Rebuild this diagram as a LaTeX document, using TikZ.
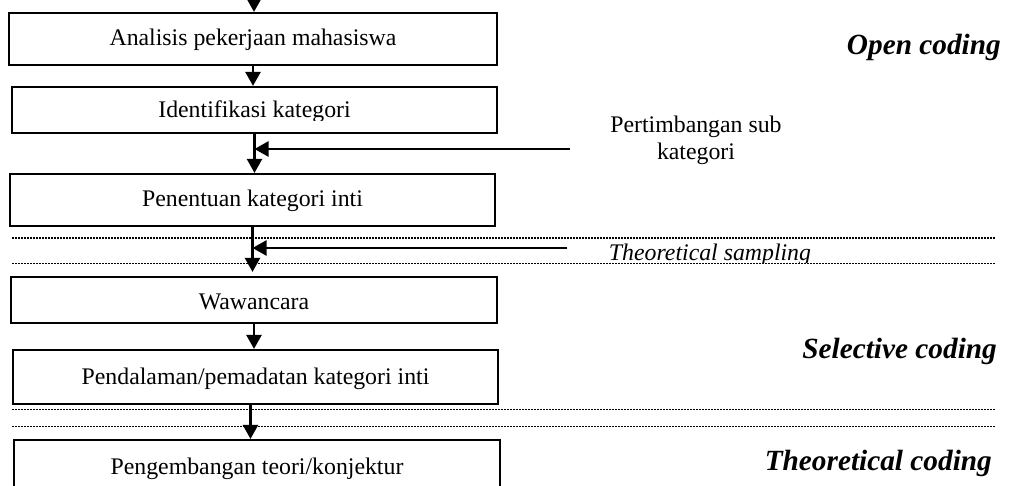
\documentclass[tikz,border=0pt]{standalone}
\usepackage{fontspec}
\setmainfont{Liberation Serif}
\usetikzlibrary{arrows.meta,calc}
\newcommand\boxfnt{\fontsize{23.8}{27}\selectfont}
\newcommand\phasefnt{\fontsize{29.3}{33}\selectfont\bfseries\itshape}
\begin{document}
\begin{tikzpicture}[x=1pt,y=-1pt,
  box/.style={draw,line width=2.2pt,inner sep=0pt,text height=16pt,text depth=2pt,font=\boxfnt},
  arr/.style={line width=2.5pt,-{Triangle[width=15pt,length=14pt]}},
  dotline/.style={line width=1.5pt,dash pattern=on 1.5pt off 1.5pt},
  phase/.style={font=\phasefnt,anchor=base east,inner sep=0pt},
  note/.style={font=\boxfnt,inner sep=0pt}]
\fill[white] (0,0) rectangle (1009,486);
\clip (0,0) rectangle (1009,486);
% dotted separators
\draw[dotline] (12,238) -- (995,238);
\draw[dotline] (12,263.5) -- (995,263.5);
\draw[dotline] (12,409.5) -- (995,409.5);
\draw[dotline] (12,426.5) -- (995,426.5);
% boxes
\node[box,minimum width=488pt,minimum height=52pt] (B1) at (253,39) {Analisis pekerjaan mahasiswa};
\node[box,minimum width=485pt,minimum height=46pt] (B2) at (254.5,110) {};
\begin{scope}
\clip (20,80) rectangle (480,120.5);
\node[note,anchor=base] (B2t) at (254.5,118) {Identifikasi kategori};
\end{scope}
\node[box,minimum width=485pt,minimum height=52pt] (B3) at (252.5,200) {Penentuan kategori inti};
\node[box,minimum width=486pt,minimum height=46pt,text height=18pt,text depth=0pt] (B4) at (254,300) {Wawancara};
\node[box,minimum width=485pt,minimum height=54pt] (B5) at (255.5,377) {Pendalaman/pemadatan kategori inti};
\node[box,minimum width=486pt,minimum height=68pt,text height=10pt,text depth=10pt] (B6) at (257,474) {Pengembangan teori/konjektur};
% vertical arrows
\coordinate (top) at (254,-20);
\draw[arr] (top) -- (top |- B1.north);
\draw[arr] (B1.south) -- (B1.south |- B2.north);
\draw[arr] (B2.south) -- (B2.south |- B3.north);
\draw[arr,shorten >=4pt] (B3.south) -- (B3.south |- B4.north);
\draw[arr] (B4.south) -- (B4.south |- B5.north);
\coordinate (b56) at ($(B5.south)+(-5,0)$);
\draw[arr] (b56) -- (b56 |- B6.north);
% feedback arrows
\coordinate (f1) at (570,149);
\draw[arr] (f1) -- (f1 -| B2.south);
\coordinate (f2) at (567,248);
\draw[arr] (f2) -- (f2 -| B3.south);
% labels
\node[note,align=center] (sub) at (696,140) {Pertimbangan sub\\kategori};
\begin{scope}
\clip (590,230) rectangle (830,262.5);
\node[note,font=\boxfnt\itshape,anchor=base] (ts) at (710,261) {Theoretical sampling};
\end{scope}
\node[phase] (oc) at (1001,55) {Open coding};
\node[phase] (sc) at (997,358) {Selective coding};
\node[phase] (tc) at (992,470) {Theoretical coding};
\end{tikzpicture}
\end{document}
